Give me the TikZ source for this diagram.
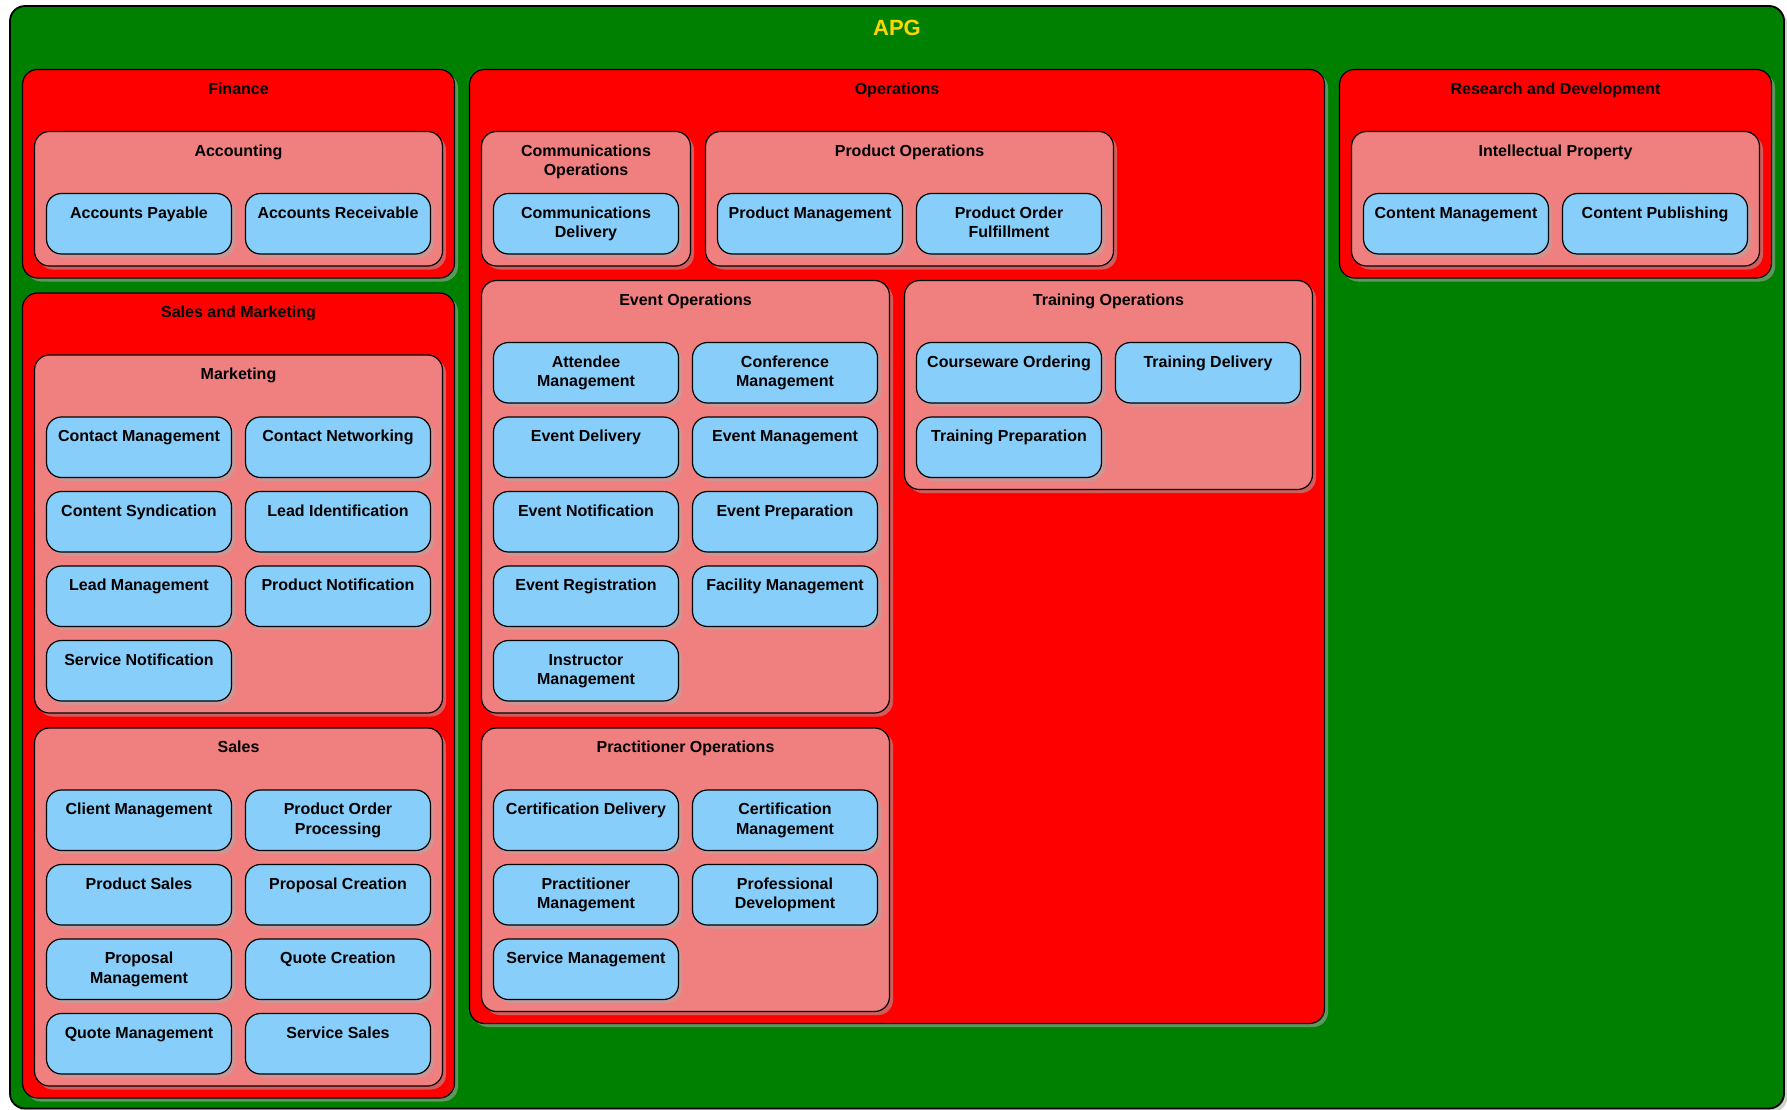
\documentclass[tikz,border=0pt]{standalone}
\usepackage{fontspec}
\setmainfont{Liberation Sans}
\usetikzlibrary{shadows}
\definecolor{apggreen}{HTML}{008000}
\definecolor{unitred}{HTML}{FF0000}
\definecolor{subcoral}{HTML}{F08080}
\definecolor{leafblue}{HTML}{87CEFA}
\definecolor{apggold}{HTML}{FFD700}
\tikzset{
 shapebase/.style={draw=black, line width=1.2pt, rounded corners=15pt, inner sep=0pt, outer sep=0pt,
   anchor=north west, font=\bfseries\fontsize{16pt}{19.5pt}\selectfont,
   drop shadow={shadow xshift=3.5pt, shadow yshift=-3.5pt, fill=black!33, opacity=0.55}},
 topgroup/.style={shapebase, fill=apggreen, line width=1.8pt, text=apggold,
   font=\bfseries\fontsize{22pt}{26.4pt}\selectfont},
 unitgroup/.style={shapebase, fill=unitred},
 subgroup/.style={shapebase, fill=subcoral},
 leafbox/.style={shapebase, fill=leafblue},
}
% style, name, x, y, width, height, text
\newcommand\grp[7]{\node[#1] (#2) at (#3,#4) {\parbox[t][#6pt][t]{#5pt}{\centering\vspace*{11pt}\strut#7\par}};}
\newcommand\leaf[4]{\grp{leafbox}{#1}{#2}{#3}{185}{60.5}{#4}}
\begin{document}
\begin{tikzpicture}[x=1pt,y=-1pt]
\useasboundingbox (0,0) rectangle (1787,1110);
\grp{topgroup}{apg}{10}{6}{1774}{1102.5}{APG}
% Finance
\grp{unitgroup}{finance}{22.5}{69.5}{432}{208.5}{Finance}
\grp{subgroup}{accounting}{34.5}{131.5}{408}{134.5}{Accounting}
\leaf{ap}{46.5}{193.5}{Accounts Payable}
\leaf{ar}{245.5}{193.5}{Accounts Receivable}
% Sales and Marketing
\grp{unitgroup}{salesmkt}{22.5}{293}{432}{805}{Sales and Marketing}
\grp{subgroup}{marketing}{34.5}{355}{408}{358}{Marketing}
\leaf{cm}{46.5}{417}{Contact Management}
\leaf{cn}{245.5}{417}{Contact Networking}
\leaf{cs}{46.5}{491.5}{Content Syndication}
\leaf{li}{245.5}{491.5}{Lead Identification}
\leaf{lm}{46.5}{566}{Lead Management}
\leaf{pn}{245.5}{566}{Product Notification}
\leaf{sn}{46.5}{640.5}{Service Notification}
\grp{subgroup}{sales}{34.5}{728}{408}{358}{Sales}
\leaf{clm}{46.5}{790}{Client Management}
\leaf{pop}{245.5}{790}{Product Order\\Processing}
\leaf{ps}{46.5}{864.5}{Product Sales}
\leaf{pc}{245.5}{864.5}{Proposal Creation}
\leaf{pm}{46.5}{939}{Proposal\\Management}
\leaf{qc}{245.5}{939}{Quote Creation}
\leaf{qm}{46.5}{1013.5}{Quote Management}
\leaf{ss}{245.5}{1013.5}{Service Sales}
% Operations
\grp{unitgroup}{operations}{469.5}{69.5}{855}{954}{Operations}
\grp{subgroup}{commops}{481.5}{131.5}{209}{134.5}{Communications\\Operations}
\leaf{cd}{493.5}{193.5}{Communications\\Delivery}
\grp{subgroup}{prodops}{705.5}{131.5}{408}{134.5}{Product Operations}
\leaf{prm}{717.5}{193.5}{Product Management}
\leaf{pof}{916.5}{193.5}{Product Order\\Fulfillment}
\grp{subgroup}{eventops}{481.5}{280.5}{408}{432.5}{Event Operations}
\leaf{atm}{493.5}{342.5}{Attendee\\Management}
\leaf{cfm}{692.5}{342.5}{Conference\\Management}
\leaf{ed}{493.5}{417}{Event Delivery}
\leaf{em}{692.5}{417}{Event Management}
\leaf{en}{493.5}{491.5}{Event Notification}
\leaf{ep}{692.5}{491.5}{Event Preparation}
\leaf{er}{493.5}{566}{Event Registration}
\leaf{fm}{692.5}{566}{Facility Management}
\leaf{im}{493.5}{640.5}{Instructor\\Management}
\grp{subgroup}{trainops}{904.5}{280.5}{408}{209}{Training Operations}
\leaf{co}{916.5}{342.5}{Courseware Ordering}
\leaf{td}{1115.5}{342.5}{Training Delivery}
\leaf{tp}{916.5}{417}{Training Preparation}
\grp{subgroup}{practops}{481.5}{728}{408}{283.5}{Practitioner Operations}
\leaf{cerd}{493.5}{790}{Certification Delivery}
\leaf{cerm}{692.5}{790}{Certification\\Management}
\leaf{prcm}{493.5}{864.5}{Practitioner\\Management}
\leaf{pd}{692.5}{864.5}{Professional\\Development}
\leaf{sm}{493.5}{939}{Service Management}
% Research and Development
\grp{unitgroup}{rnd}{1339.5}{69.5}{432}{208.5}{Research and Development}
\grp{subgroup}{ip}{1351.5}{131.5}{408}{134.5}{Intellectual Property}
\leaf{ctm}{1363.5}{193.5}{Content Management}
\leaf{ctp}{1562.5}{193.5}{Content Publishing}
\end{tikzpicture}
\end{document}
